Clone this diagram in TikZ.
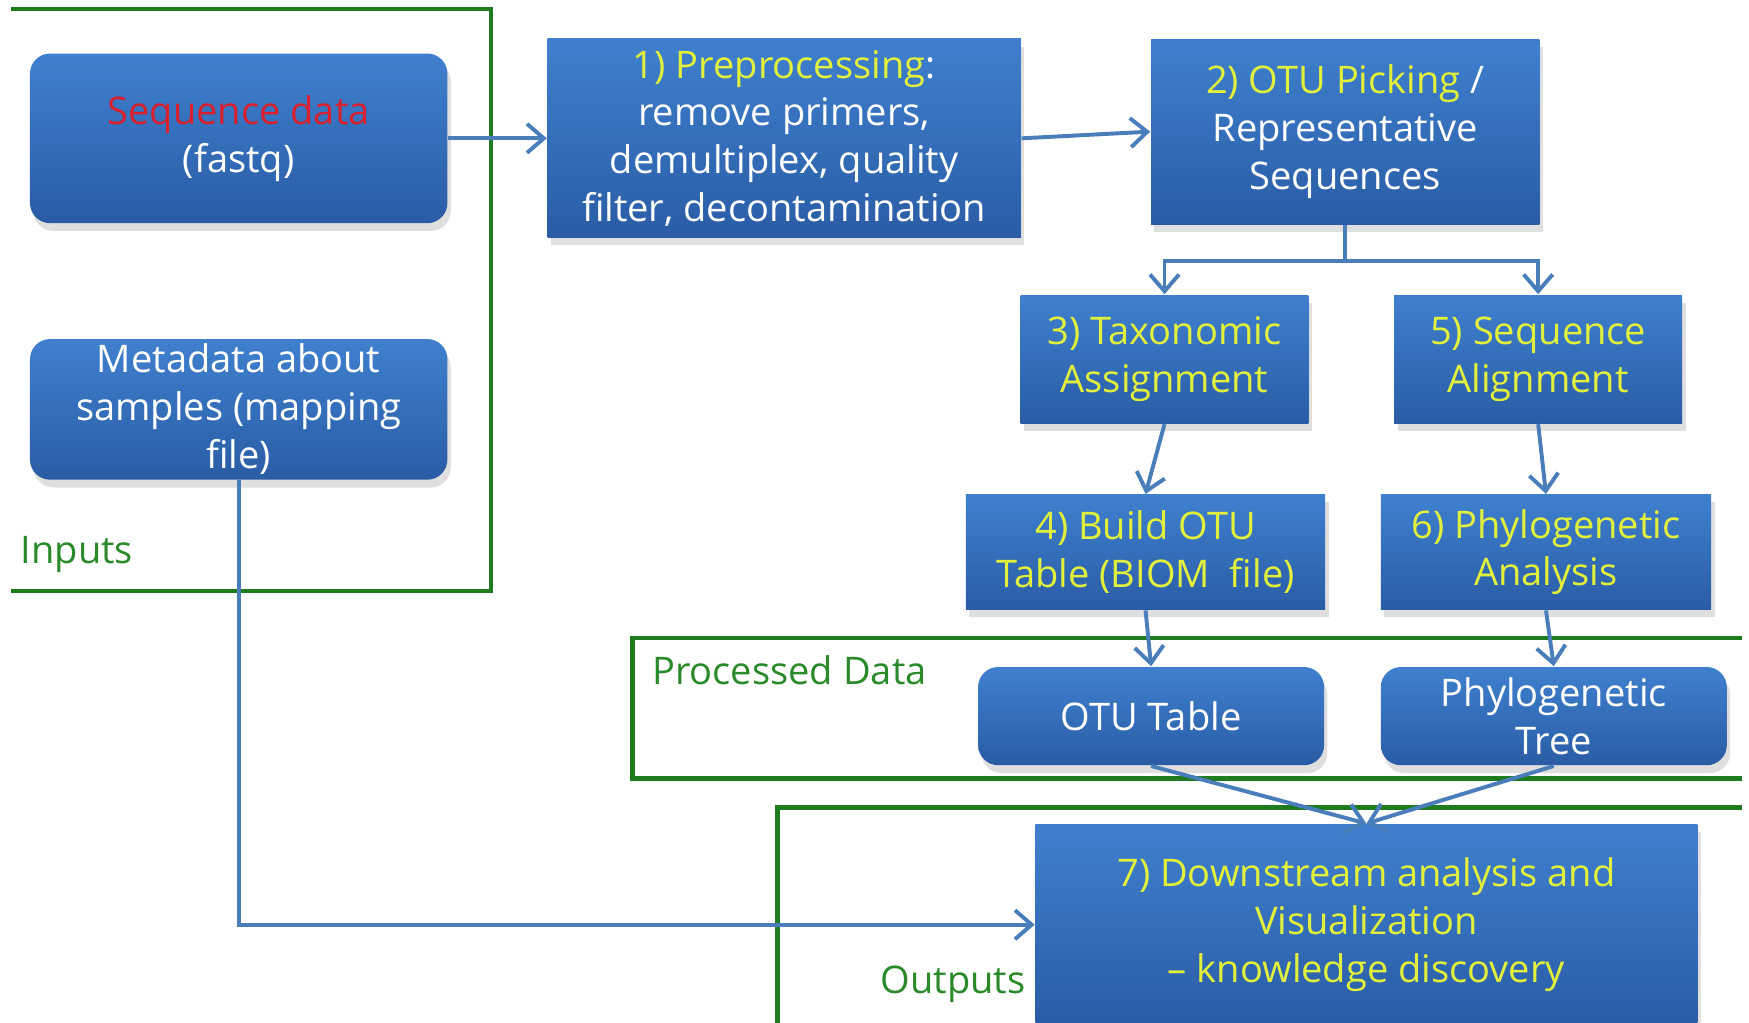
\documentclass[tikz,border=0pt]{standalone}
\usepackage{fontspec}
\setmainfont{Open Sans}
\usepackage{tikz}
\usetikzlibrary{arrows.meta,positioning,shadows}
\definecolor{cBoxT}{HTML}{3F80CE}
\definecolor{cBoxB}{HTML}{2A5CA5}
\definecolor{cYel} {HTML}{E0F03C}
\definecolor{cRed} {HTML}{D8202E}
\definecolor{cGrn} {HTML}{1E7B1E}
\definecolor{cLbl} {HTML}{2A8A2A}
\definecolor{cArr} {HTML}{4A7EBB}
\tikzset{
  blk/.style   ={top color=cBoxT,bottom color=cBoxB,draw=none,text=white,
                 align=center,inner sep=0pt,
                 drop shadow={shadow xshift=0.3mm,shadow yshift=-0.7mm,opacity=0.25}},
  rblk/.style  ={blk,rounded corners=1.8mm},
  yblk/.style  ={blk,text=cYel},
  frm/.style   ={draw=cGrn,line width=1.1pt},
  grplbl/.style={text=cLbl,inner sep=0pt},
  link/.style  ={draw=cArr,line width=1pt},
  arr/.style   ={link,-{Straight Barb[length=1.5mm,width=2.6mm]}},
}

\begin{document}
\begin{tikzpicture}[x=0.01cm, y=-0.01cm, font=\fontsize{9.7}{12.2}\selectfont]
\useasboundingbox (0,0) rectangle (1568,917);
\clip (0,0) rectangle (1568,917);

% group frames, open towards the page edges
\draw[frm] (10,8) -- (440,8) -- (440,530) -- (10,530);
\draw[frm] (1562,572) -- (567,572) -- (567,698) -- (1562,698);
\draw[frm] (1562,724) -- (697,724) -- (697,920);
\node[grplbl,anchor=west] (lin)  at (18,497)  {Inputs};
\node[grplbl,anchor=west] (lpd)  at (584,601) {Processed Data};
\node[grplbl,anchor=east] (lout) at (920,882) {Outputs};

% inputs
\node[rblk,minimum width=3.74cm,minimum height=1.52cm] (seq) at (214,124)
  {{\color{cRed}Sequence data}\\(fastq)};
\node[rblk,minimum width=3.74cm,minimum height=1.26cm] (meta) at (214,367)
  {Metadata about\\samples (mapping\\file)};

% processing steps
\node[blk,minimum width=4.24cm,minimum height=1.78cm] (pre) at (703,124)
  {{\color{cYel}1) Preprocessing}:\\remove primers,\\demultiplex, quality\\
   filter, decontamination};
\node[blk,minimum width=3.48cm,minimum height=1.66cm] (otu) at (1206,118)
  {{\color{cYel}2) OTU Picking} /\\Representative\\Sequences};
\node[yblk,minimum width=2.58cm,minimum height=1.15cm] (tax) at (1044,322)
  {3) Taxonomic\\Assignment};
\node[yblk,minimum width=2.58cm,minimum height=1.15cm] (aln) at (1379,322)
  {5) Sequence\\Alignment};
\node[yblk,minimum width=3.22cm,minimum height=1.03cm] (bom) at (1027,495)
  {4) Build OTU\\Table (BIOM~ file)};
\node[yblk,minimum width=2.96cm,minimum height=1.03cm] (phy) at (1386,495)
  {6) Phylogenetic\\Analysis};

% processed data
\node[rblk,minimum width=3.10cm,minimum height=0.88cm] (tab) at (1032,642)
  {OTU Table};
\node[rblk,minimum width=3.10cm,minimum height=0.88cm] (tree) at (1393,642)
  {Phylogenetic\\Tree};

% outputs
\node[yblk,minimum width=5.93cm,minimum height=1.80cm] (dwn) at (1225,829)
  {7) Downstream analysis and\\Visualization\\-- knowledge discovery};

% connectors
\draw[arr] (seq.east) -- (seq.east -| pre.west);
\draw[arr] (pre.east) -- (otu.west);
\draw[link] (otu.south) -- ++(0,32) coordinate (fork);
\draw[arr] (fork) -| (tax.north);
\draw[arr] (fork) -| (aln.north);
\draw[arr] (tax.south) -- (bom.north);
\draw[arr] (aln.south) -- (phy.north);
\draw[arr] (bom.south) -- (tab.north);
\draw[arr] (phy.south) -- (tree.north);
\draw[arr] (tab.south) -- (dwn.north);
\draw[arr] (tree.south) -- (dwn.north);
\draw[arr] (meta.south) |- (dwn.west);
\end{tikzpicture}
\end{document}
